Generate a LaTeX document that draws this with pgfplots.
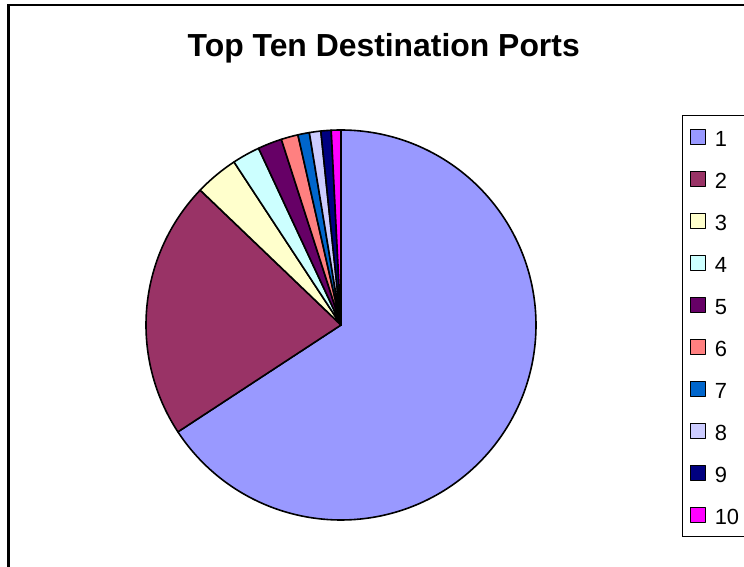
\documentclass[border=0pt]{standalone}
\usepackage{pgfplots}
\pgfplotsset{compat=1.18}
\usepackage{fontspec}
\setmainfont{Liberation Sans}
\definecolor{c1}{HTML}{9999FF}
\definecolor{c2}{HTML}{993366}
\definecolor{c3}{HTML}{FFFFCC}
\definecolor{c4}{HTML}{CCFFFF}
\definecolor{c5}{HTML}{660066}
\definecolor{c6}{HTML}{FF8080}
\definecolor{c7}{HTML}{0066CC}
\definecolor{c8}{HTML}{CCCCFF}
\definecolor{c9}{HTML}{000080}
\definecolor{c10}{HTML}{FF00FF}
% share of each port (percent), colour, legend label
\def\piedata{65.8/c1/1, 21.4/c2/2, 3.6/c3/3, 2.3/c4/4, 2.0/c5/5, 1.4/c6/6, 0.95/c7/7, 0.95/c8/8, 0.85/c9/9, 0.8/c10/10}
\begin{document}
\begin{tikzpicture}
\useasboundingbox (0,0) rectangle (744bp,567bp);
\fill[white] (0,0) rectangle (744bp,567bp);
\draw[line width=2.2bp, line cap=rect] (8.5bp,-5bp) -- (8.5bp,562bp) -- (760bp,562bp);
\node[font=\bfseries\fontsize{32}{38}\selectfont, anchor=base] at (383.7bp,510.3bp) {Top Ten Destination Ports};
\gdef\pietotal{0}
\foreach \v/\cc/\n in \piedata {\pgfmathsetmacro\tmpt{\pietotal+\v}\xdef\pietotal{\tmpt}}
\begin{axis}[
  at={(341bp,242bp)}, anchor=center,
  width=390bp, height=390bp, scale only axis,
  hide axis, clip=false,
  xmin=-1, xmax=1, ymin=-1, ymax=1,
  legend image code/.code={\draw[#1, line width=0.9bp] (0bp,-7.25bp) rectangle (14.5bp,7.25bp);},
  legend cell align=left,
  legend style={at={(1.3736,1.0385)}, anchor=north west, draw=black, line width=0.8bp,
    inner xsep=8.3bp, inner ysep=12bp, font=\fontsize{22}{26}\selectfont,
    row sep=23bp, column sep=9bp,
    nodes={inner sep=0pt, text height=19bp, text depth=0pt}},
]
\gdef\prevsum{0}
\foreach \v/\cc/\n in \piedata {
  \pgfmathsetmacro\cumsum{\prevsum+\v}
  \pgfmathsetmacro\angA{90-\prevsum/\pietotal*360}
  \pgfmathsetmacro\angB{90-\cumsum/\pietotal*360}
  \edef\temp{\noexpand\addplot[fill=\cc, draw=black, line width=1.6bp, line join=round, domain=\angB:\angA, samples=180]
     ({cos(x)},{sin(x)}) -- (axis cs:0,0) -- cycle;
     \noexpand\addlegendentry{\n}}
  \temp
  \xdef\prevsum{\cumsum}
}
\end{axis}
\end{tikzpicture}
\end{document}
